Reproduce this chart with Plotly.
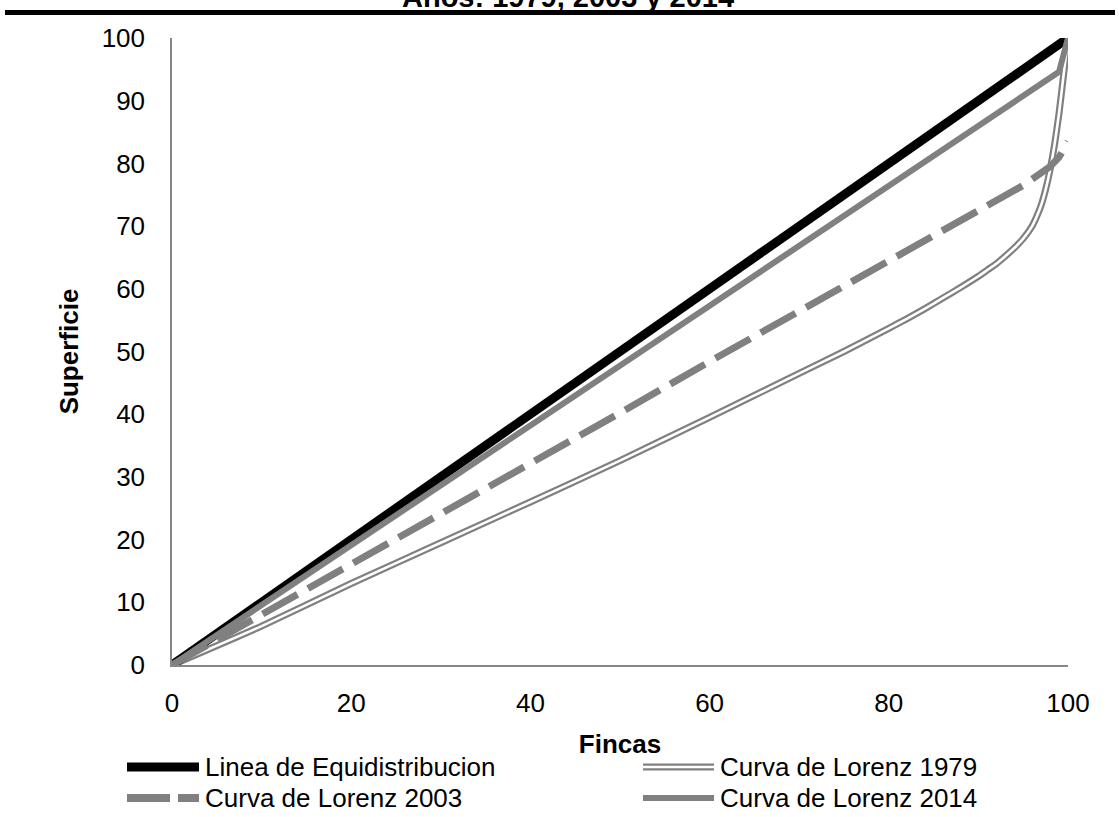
import plotly.graph_objects as go

# ---------------- data ----------------
series_names = ["Linea de Equidistribucion", "Curva de Lorenz 1979",
                "Curva de Lorenz 2003", "Curva de Lorenz 2014"]
title_text = "Años: 1979, 2003 y 2014"
x_title = "Fincas"
y_title = "Superficie"

fincas_equi = [0, 100]
sup_equi = [0, 100]

fincas_1979 = [0, 10, 20, 30, 40, 50, 60, 70, 75, 80, 82, 84, 86, 88, 90, 91, 92, 93, 94, 95,
               96, 96.5, 97, 97.5, 98, 98.5, 99, 99.5, 100]
sup_1979 = [0, 6.2, 13, 19.5, 26, 32.6, 39.5, 46.5, 50, 53.7, 55.2, 56.8, 58.5, 60.2, 62, 63, 64,
            65.2, 66.5, 68, 70, 71.5, 73.3, 75.8, 79, 83, 88, 94, 100]

fincas_2003 = [0, 10, 20, 30, 40, 50, 60, 70, 80, 90, 95, 98, 99, 100]
sup_2003 = [0, 8, 16, 24, 32, 40.2, 48.4, 56.5, 64.5, 72.5, 76.5, 79.5, 81, 83.5]

fincas_2014 = [0, 20, 40, 60, 80, 90, 99, 100]
sup_2014 = [0, 19, 38.2, 57.3, 76.4, 86, 94.6, 100]

x_ticks = [0, 20, 40, 60, 80, 100]
y_ticks = [0, 10, 20, 30, 40, 50, 60, 70, 80, 90, 100]

# ---------------- style ----------------
W, H = 1119, 817
ML, MR, MT, MB = 172, 51, 38, 152
PW, PH = W - ML - MR, H - MT - MB
GRAY = "#808080"
AXIS = "#868686"
FONT = "Liberation Sans, Arial, sans-serif"


def px_x(px):
    return (px - ML) / PW


def px_y(py):
    return (H - MB - py) / PH


fig = go.Figure()

# 1979: compound (double) line -> gray outer + white core
fig.add_trace(go.Scatter(x=fincas_1979, y=sup_1979, mode="lines", name=series_names[1],
                         line=dict(color=GRAY, width=7, shape="spline", smoothing=0.5),
                         showlegend=False))
fig.add_trace(go.Scatter(x=fincas_1979, y=sup_1979, mode="lines", name=series_names[1],
                         line=dict(color="white", width=2.6, shape="spline", smoothing=0.5),
                         showlegend=False, hoverinfo="skip"))
fig.add_trace(go.Scatter(x=fincas_equi, y=sup_equi, mode="lines", name=series_names[0],
                         line=dict(color="black", width=9), showlegend=False))
fig.add_trace(go.Scatter(x=fincas_2003, y=sup_2003, mode="lines", name=series_names[2],
                         line=dict(color=GRAY, width=7, dash="40px,12px"), showlegend=False))
fig.add_trace(go.Scatter(x=fincas_2014, y=sup_2014, mode="lines", name=series_names[3],
                         line=dict(color=GRAY, width=6), showlegend=False))

shapes = []
annotations = []

# top rule line of the document
shapes.append(dict(type="line", xref="paper", yref="paper",
                   x0=px_x(5), x1=px_x(1115), y0=px_y(12.5), y1=px_y(12.5),
                   line=dict(color="black", width=5)))

# partially visible title (cut by the top edge, as in the source document)
annotations.append(dict(text="<b>" + title_text + "</b>", xref="paper", yref="paper",
                        x=px_x(568), y=px_y(-3), xanchor="center", yanchor="middle",
                        showarrow=False, font=dict(family=FONT, size=29, color="black")))

# manual legend
rows = [767, 798]
cols = [(127, 199, 203), (643, 714, 718)]
legend_items = [
    (0, 0, series_names[0], [dict(color="black", width=9)]),
    (0, 1, series_names[1], [dict(color=GRAY, width=7), dict(color="white", width=2.6)]),
    (1, 0, series_names[2], [dict(color=GRAY, width=8, dash="43px,8px")]),
    (1, 1, series_names[3], [dict(color=GRAY, width=6)]),
]
for r, c, label, styles in legend_items:
    x0, x1, xt = cols[c]
    yy = px_y(rows[r])
    for st in styles:
        shapes.append(dict(type="line", xref="paper", yref="paper",
                           x0=px_x(x0), x1=px_x(x1), y0=yy, y1=yy, line=st))
    annotations.append(dict(text=label, xref="paper", yref="paper", x=px_x(xt), y=yy,
                            xanchor="left", yanchor="middle", showarrow=False,
                            font=dict(family=FONT, size=26, color="black")))

fig.update_layout(
    width=W, height=H,
    margin=dict(l=ML, r=MR, t=MT, b=MB, autoexpand=False),
    paper_bgcolor="white", plot_bgcolor="white",
    font=dict(family=FONT, color="black"),
    xaxis=dict(range=[0, 100], tickvals=x_ticks, showgrid=False, zeroline=False,
               showline=True, linecolor=AXIS, linewidth=1.5, ticks="",
               ticklabelstandoff=14,
               tickfont=dict(family=FONT, size=26, color="black"),
               title=dict(text="<b>" + x_title + "</b>", standoff=18,
                          font=dict(family=FONT, size=26, color="black")),
               automargin=False),
    yaxis=dict(range=[0, 100], tickvals=y_ticks, showgrid=False, zeroline=False,
               showline=True, linecolor=AXIS, linewidth=1.5, ticks="",
               ticklabelstandoff=20,
               tickfont=dict(family=FONT, size=26, color="black"),
               title=dict(text="<b>" + y_title + "</b>", standoff=16,
                          font=dict(family=FONT, size=26, color="black")),
               automargin=False),
    shapes=shapes,
    annotations=annotations,
    showlegend=False,
)

fig.write_html("out.html", config={"displayModeBar": False},
               post_script="document.body.style.margin='0px';")
